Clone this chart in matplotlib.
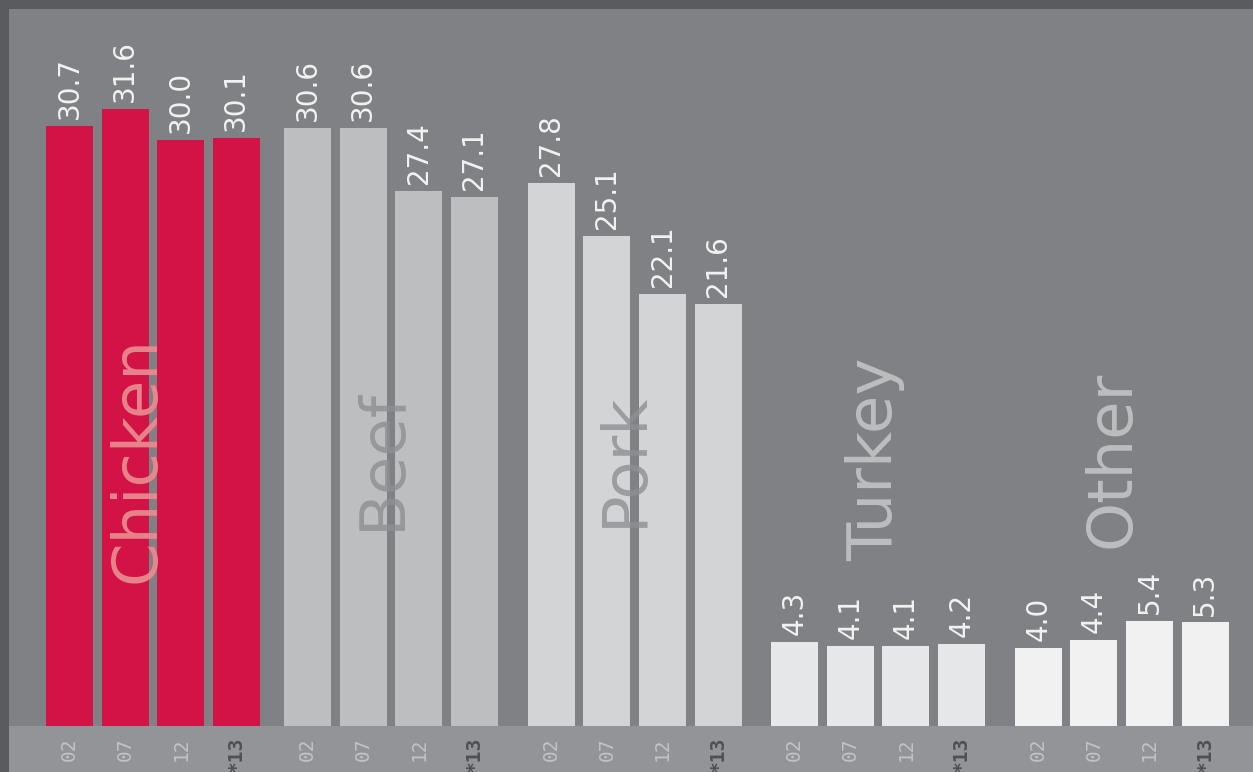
import matplotlib
matplotlib.use("Agg")
import matplotlib.pyplot as plt
from matplotlib.patches import Rectangle

# ---- data ----
categories = ["Chicken", "Beef", "Pork", "Turkey", "Other"]
years = ["02", "07", "12", "*13"]
chicken = [30.7, 31.6, 30.0, 30.1]
beef = [30.6, 30.6, 27.4, 27.1]
pork = [27.8, 25.1, 22.1, 21.6]
turkey = [4.3, 4.1, 4.1, 4.2]
other = [4.0, 4.4, 5.4, 5.3]
series = [chicken, beef, pork, turkey, other]

bar_colors = ["#d31245", "#bdbec0", "#d3d4d6", "#e6e7e8", "#f1f1f1"]
label_colors = ["#e98a8f", "#8e8f92", "#8e8f92", "#bcbdbf", "#bcbdbf"]
label_alpha = [0.95, 0.8, 0.8, 1.0, 1.0]
group_starts = [0.0, 4.26, 8.62, 12.97, 17.33]
label_offsets = [1.21, 1.35, 1.32, 1.44, 1.32]

W, H = 1253, 772
fig = plt.figure(figsize=(W / 100, H / 100), dpi=100)
fig.patch.set_facecolor("#5a5b5e")

# bottom band
fig.add_artist(Rectangle((9 / W, 0), 1 - 9 / W, 46 / H, transform=fig.transFigure,
                         facecolor="#939497", edgecolor="none", zorder=0))

ax = fig.add_axes([9 / W, 46 / H, (W - 9) / W, (726 - 9) / H])
ax.set_facecolor("#808185")
for s in ax.spines.values():
    s.set_visible(False)

bar_w = 0.84
xs_all, labels_all = [], []
for g, (vals, col) in enumerate(zip(series, bar_colors)):
    xs = [group_starts[g] + i * 0.995 for i in range(len(vals))]
    ax.bar(xs, vals, width=bar_w, color=col, zorder=2)
    for x, v in zip(xs, vals):
        ax.annotate(f"{v:.1f}", (x, v), xytext=(0, 5), textcoords="offset points",
                    rotation=90, ha="center", va="bottom", color="#f2f2f2",
                    fontsize=20, family="DejaVu Sans", zorder=4)
    xs_all += xs
    labels_all += years
    ax.text(group_starts[g] + label_offsets[g], 13.66, categories[g], rotation=90,
            ha="center", va="center", fontsize=45, color=label_colors[g],
            alpha=label_alpha[g], family="DejaVu Sans", zorder=3)

ax.set_xlim(-1.082, -1.082 + (W - 9) / 55.9)
ax.set_ylim(0, 36.7)
ax.set_yticks([])
ax.set_xticks(xs_all)
ax.set_xticklabels(labels_all, rotation=90, family="DejaVu Sans Mono", fontsize=14)
ax.tick_params(axis="x", length=0, pad=8)
for t in ax.get_xticklabels():
    if t.get_text().startswith("*"):
        t.set_color("#4f5053")
        t.set_fontweight("bold")
    else:
        t.set_color("#c2c3c5")

fig.savefig("out.png", dpi=100, facecolor=fig.get_facecolor())
